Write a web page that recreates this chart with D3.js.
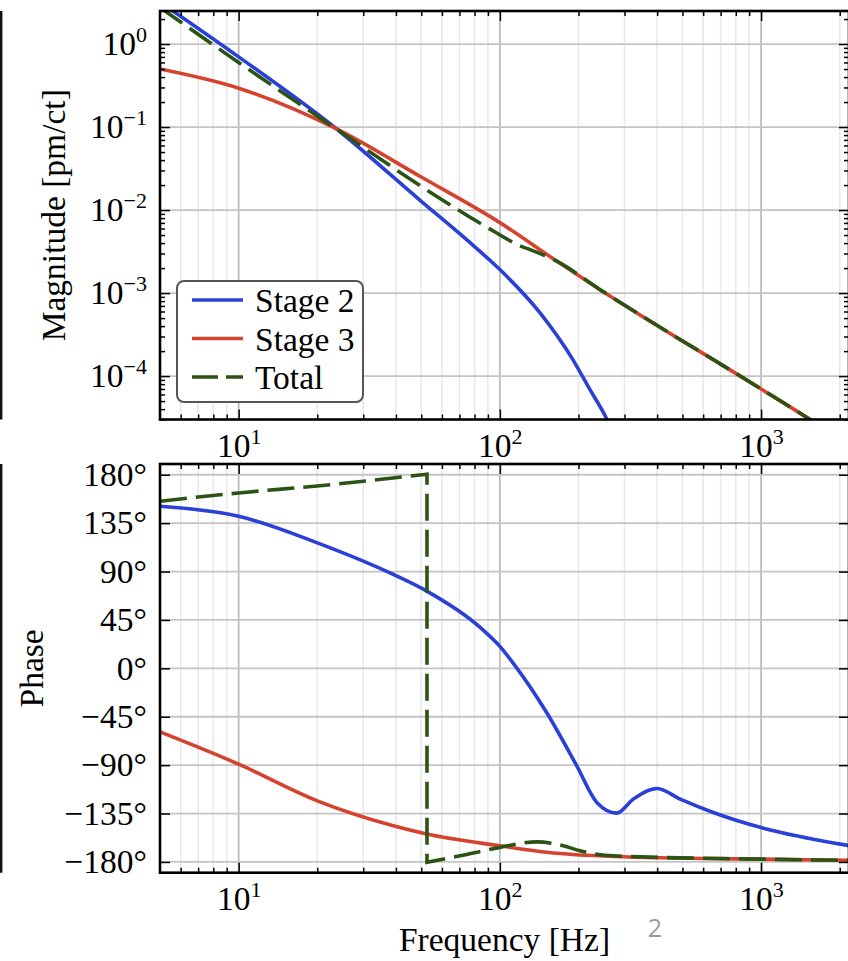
<!DOCTYPE html>
<html>
<head>
<meta charset="utf-8">
<script src="https://cdn.jsdelivr.net/npm/d3@7"></script>
<style>
  body { margin: 0; background: #fff; }
  svg { display: block; }
  text { font-family: "Liberation Serif", "DejaVu Serif", serif; }
</style>
</head>
<body>
<script>
// --- values ---
// magnitude [pm/ct]
let s2MagF = [5, 10, 23.4, 49.5, 79, 100, 142, 190, 221, 257, 290]
let s2Mag  = [3.2, 0.70, 0.098, 0.0131, 3.75e-3, 1.92e-3, 5.85e-4, 1.59e-4, 6.9e-5, 3.0e-5, 1.2e-5]
let s3MagF = [5, 10, 23.4, 50, 100, 166, 242, 1000, 1514, 2200]
let s3Mag  = [0.50, 0.294, 0.097, 0.025, 7.06e-3, 2.4e-3, 1.1e-3, 7.0e-5, 3.1e-5, 1.45e-5]
let totMagF = [5, 10, 23.4, 49.5, 59, 97.3, 119.5, 130.5, 165, 242, 1000, 1514, 2200]
let totMag  = [2.75, 0.60, 0.097, 0.0197, 0.0138, 5.3e-3, 3.7e-3, 3.34e-3, 2.42e-3, 1.1e-3, 7.0e-5, 3.1e-5, 1.45e-5]

// phase [deg]
let s2PhF = [5, 10, 20, 39.1, 52.5, 84, 100, 112.6, 151, 197, 235, 280, 324, 399, 490, 656, 1000, 1585, 2200]
let s2Ph  = [150.7, 141.4, 116.7, 87.3, 71.8, 38.1, 20.4, 4.6, -41.1, -90.7, -124.7, -134.6, -121.6, -111.7, -121.6, -134, -148, -158.8, -165]
let s3PhF = [5, 10, 20, 39.1, 52.5, 100, 151, 272, 1000, 2200]
let s3Ph  = [-59.1, -89.1, -123.2, -146.4, -154.1, -165, -171, -174.9, -177.4, -178.5]
// total phase wraps at ~52.6 Hz, so it is kept in two pieces
let totPhF_a = [5, 10, 20, 52.6]
let totPh_a  = [155.4, 163.1, 169.6, 180.5]
let totPhF_b = [52.6, 70.4, 100, 138.5, 175, 202.7, 272, 1000, 2200]
let totPh_b  = [-180.4, -174.3, -166.5, -161.3, -165, -169.7, -174.3, -177.4, -178.5]

let freqMajor = [10, 100, 1000]
let magMajor = [1e-4, 1e-3, 1e-2, 1e-1, 1]
let phaseTicks = [-180, -135, -90, -45, 0, 45, 90, 135, 180]
let seriesNames = ["Stage 2", "Stage 3", "Total"]

// --- look ---
let colors = { s2: "#2b40d6", s3: "#d5432f", tot: "#2b5414" }
let serif = "Liberation Serif, DejaVu Serif, serif"
let fs = 33.5
let W = 848, H = 961
let left = 160, right = 849

let svg = d3.select("body").append("svg")
    .attr("width", W)
    .attr("height", H)

let x = d3.scaleLog().domain([5, 2170]).range([left, right])
let yMag = d3.scaleLog().domain([3e-5, 2.5]).range([419.5, 11])
let yPh = d3.scaleLinear().domain([-190, 190]).range([872.7, 464])

let freqMinor = x.ticks().filter(d => !freqMajor.includes(d) && d > 5)
let magMinor = yMag.ticks().filter(d => !magMajor.some(m => Math.abs(m - d) / m < 1e-6))

function minus(v) { return v < 0 ? "\u2212" + (-v) : "" + v }

function powLabel(text) {
    text.each(function(d) {
        let e = Math.round(Math.log10(d))
        let t = d3.select(this).text("10")
        t.append("tspan").attr("dy", -13).attr("font-size", 22).text(minus(e))
    })
}

function axisStyle(g) {
    g.select(".domain").remove()
    g.attr("font-family", serif).attr("font-size", fs)
    g.selectAll(".tick line").attr("stroke", "#000").attr("stroke-width", 1.5)
    g.selectAll(".tick text").attr("fill", "#000")
}

function zip(f, v) { return f.map((d, i) => [d, v[i]]) }

function panel(id, y, yMajor, yMinor, yFormat, curves) {
    let [yb, yt] = y.range()
    let g = svg.append("g")

    // grid
    g.append("g").selectAll("line").data(freqMinor).join("line")
        .attr("x1", d => x(d)).attr("x2", d => x(d))
        .attr("y1", yt).attr("y2", yb)
        .attr("stroke", "#e9e9e9").attr("stroke-width", 1.6)
    g.append("g").selectAll("line").data(freqMajor).join("line")
        .attr("x1", d => x(d)).attr("x2", d => x(d))
        .attr("y1", yt).attr("y2", yb)
        .attr("stroke", "#bdbdbd").attr("stroke-width", 1.8)
    g.append("g").selectAll("line").data(yMajor).join("line")
        .attr("x1", left).attr("x2", right)
        .attr("y1", d => y(d)).attr("y2", d => y(d))
        .attr("stroke", "#c4c4c4").attr("stroke-width", 1.8)

    // curves
    svg.append("clipPath").attr("id", "clip" + id)
        .append("rect").attr("x", left).attr("y", yt).attr("width", right - left).attr("height", yb - yt)
    let cg = g.append("g").attr("clip-path", `url(#clip${id})`)
    curves.forEach(c => {
        cg.append("path")
            .attr("d", c.d)
            .attr("fill", "none")
            .attr("stroke", c.color)
            .attr("stroke-width", 3.6)
            .attr("stroke-dasharray", c.dash || null)
    })

    // ticks on all four sides
    g.append("g").attr("transform", `translate(0,${yb})`)
        .call(d3.axisBottom(x).tickValues(freqMajor).tickSizeInner(-10).tickSizeOuter(0).tickPadding(14))
        .call(axisStyle)
        .call(a => a.selectAll(".tick text").call(powLabel))
    g.append("g").attr("transform", `translate(0,${yb})`)
        .call(d3.axisBottom(x).tickValues(freqMinor).tickSizeInner(-5).tickSizeOuter(0).tickFormat(""))
        .call(axisStyle)
    g.append("g").attr("transform", `translate(0,${yt})`)
        .call(d3.axisTop(x).tickValues(freqMajor).tickSizeInner(-10).tickSizeOuter(0).tickFormat(""))
        .call(axisStyle)
    g.append("g").attr("transform", `translate(0,${yt})`)
        .call(d3.axisTop(x).tickValues(freqMinor).tickSizeInner(-5).tickSizeOuter(0).tickFormat(""))
        .call(axisStyle)

    let ly = g.append("g").attr("transform", `translate(${left},0)`)
        .call(d3.axisLeft(y).tickValues(yMajor).tickSizeInner(-10).tickSizeOuter(0).tickPadding(13).tickFormat(yFormat || (() => "")))
        .call(axisStyle)
    if (!yFormat) ly.selectAll(".tick text").call(powLabel)
    g.append("g").attr("transform", `translate(${right},0)`)
        .call(d3.axisRight(y).tickValues(yMajor).tickSizeInner(-10).tickSizeOuter(0).tickFormat(""))
        .call(axisStyle)
    if (yMinor.length) {
        g.append("g").attr("transform", `translate(${left},0)`)
            .call(d3.axisLeft(y).tickValues(yMinor).tickSizeInner(-5).tickSizeOuter(0).tickFormat(""))
            .call(axisStyle)
        g.append("g").attr("transform", `translate(${right},0)`)
            .call(d3.axisRight(y).tickValues(yMinor).tickSizeInner(-5).tickSizeOuter(0).tickFormat(""))
            .call(axisStyle)
    }

    // spines
    g.append("rect")
        .attr("x", left).attr("y", yt)
        .attr("width", right - left).attr("height", yb - yt)
        .attr("fill", "none").attr("stroke", "#000").attr("stroke-width", 2.6)

    // edge of the neighbouring figure, cut by the crop
    g.append("line")
        .attr("x1", 1.2).attr("x2", 1.2).attr("y1", yt).attr("y2", yb)
        .attr("stroke", "#111").attr("stroke-width", 2.4)
    return g
}

let lineMag = d3.line().x(d => x(d[0])).y(d => yMag(d[1])).curve(d3.curveMonotoneX)
let linePh = d3.line().x(d => x(d[0])).y(d => yPh(d[1])).curve(d3.curveMonotoneX)
let dash = "27,9"

let magPanel = panel("mag", yMag, magMajor, magMinor, null, [
    { d: lineMag(zip(s2MagF, s2Mag)), color: colors.s2 },
    { d: lineMag(zip(s3MagF, s3Mag)), color: colors.s3 },
    { d: lineMag(zip(totMagF, totMag)), color: colors.tot, dash: dash }
])

// the two pieces of the total phase joined by the vertical wrap line
let totPhPath = linePh(zip(totPhF_a, totPh_a)) + linePh(zip(totPhF_b, totPh_b)).replace(/^M/, "L")

let phPanel = panel("ph", yPh, phaseTicks, [], d => minus(d) + "\u00b0", [
    { d: linePh(zip(s2PhF, s2Ph)), color: colors.s2 },
    { d: linePh(zip(s3PhF, s3Ph)), color: colors.s3 },
    { d: totPhPath, color: colors.tot, dash: dash }
])

// legend
let lg = magPanel.append("g")
lg.append("rect")
    .attr("x", 177).attr("y", 281).attr("width", 186).attr("height", 121).attr("rx", 7)
    .attr("fill", "#fff").attr("stroke", "#555").attr("stroke-width", 2)
let legendColors = [colors.s2, colors.s3, colors.tot]
let legendDash = [null, null, "26,8"]
seriesNames.forEach((n, i) => {
    let ly = 300 + i * 38.5
    lg.append("line")
        .attr("x1", 192).attr("x2", 243).attr("y1", ly).attr("y2", ly)
        .attr("stroke", legendColors[i]).attr("stroke-width", 3.6)
        .attr("stroke-dasharray", legendDash[i])
    lg.append("text")
        .attr("x", 255).attr("y", ly + 12)
        .attr("font-family", serif)
        .attr("font-size", fs)
        .text(n)
})

// axis titles
svg.append("text")
    .attr("transform", `translate(65,${(11 + 419.5) / 2}) rotate(-90)`)
    .attr("text-anchor", "middle")
    .attr("font-family", serif)
    .attr("font-size", fs)
    .text("Magnitude [pm/ct]")
svg.append("text")
    .attr("transform", `translate(43,${(464 + 872.7) / 2}) rotate(-90)`)
    .attr("text-anchor", "middle")
    .attr("font-family", serif)
    .attr("font-size", fs)
    .text("Phase")
svg.append("text")
    .attr("x", (left + right) / 2).attr("y", 951)
    .attr("text-anchor", "middle")
    .attr("font-family", serif)
    .attr("font-size", fs)
    .text("Frequency [Hz]")

// page number from the slide
svg.append("text")
    .attr("x", 655).attr("y", 937)
    .attr("text-anchor", "middle")
    .style("font-family", "'Open Sans', 'DejaVu Sans', sans-serif")
    .attr("font-size", 25)
    .attr("fill", "#9b9b9b")
    .text("2")
</script>
</body>
</html>
